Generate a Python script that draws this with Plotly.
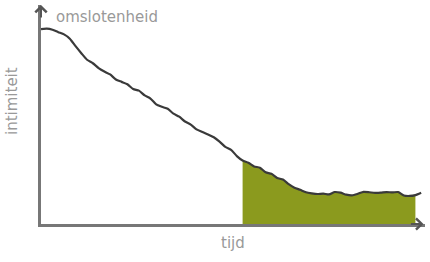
import plotly.graph_objects as go

# time (x) and intimacy (y) values
tijd = [0, 1.5, 3, 4.5, 6, 7.5, 9, 10.5, 12, 13.5, 15, 16.5, 18, 19.5, 21, 22.5, 24, 25.5,
        27, 28.5, 30, 31.5, 33, 34.5, 36, 37.5, 39, 40.5, 42, 43.5, 45, 46.5, 48, 49.5,
        51, 52.5, 54, 55.5, 57, 58.5, 60, 61.5, 63, 64.5, 66, 67.5, 69, 70.5, 72, 73.5,
        75, 76.5, 78, 79.5, 81, 82.5, 84, 85.5, 87, 88.5, 90, 91.5, 93, 94.5, 96, 97.5, 99]
intimiteit = [89.0, 89.2, 88.7, 87.6, 86.6, 84.6, 81.2, 78.0, 75.0, 73.4, 71.2, 69.6, 68.3,
              66.0, 64.9, 63.8, 61.6, 60.9, 58.7, 57.3, 54.6, 53.5, 52.6, 50.4, 49.0, 46.8,
              45.4, 43.2, 42.0, 40.9, 39.6, 37.6, 35.2, 33.9, 31.0, 29.0, 28.0, 26.3, 25.7,
              23.6, 22.9, 21.0, 20.3, 18.2, 16.6, 15.6, 14.5, 14.0, 13.7, 13.9, 13.5, 14.6,
              14.3, 13.4, 13.1, 13.8, 14.7, 14.5, 14.2, 14.3, 14.6, 14.4, 14.6, 13.0, 12.8,
              13.2, 14.3]
fill_start = 52.5
fill_end = 97.5

fx = [x for x in tijd if fill_start <= x <= fill_end]
fy = [y for x, y in zip(tijd, intimiteit) if fill_start <= x <= fill_end]

fig = go.Figure()
fig.add_trace(go.Scatter(x=fx, y=fy, mode="lines", fill="tozeroy",
                         fillcolor="#8b9a1e", line=dict(width=0, color="#8b9a1e"),
                         hoverinfo="skip", showlegend=False))
fig.add_trace(go.Scatter(x=tijd, y=intimiteit, mode="lines",
                         line=dict(color="#3a3a3a", width=2.2, shape="spline", smoothing=0.6),
                         showlegend=False))

fig.update_layout(
    width=430, height=262,
    margin=dict(l=41, r=5, t=5, b=38),
    paper_bgcolor="white", plot_bgcolor="white",
    xaxis=dict(range=[0, 100], showgrid=False, zeroline=False, showticklabels=False,
               ticks="", showline=True, linecolor="#777777", linewidth=2.5, mirror=False),
    yaxis=dict(range=[0, 100], showgrid=False, zeroline=False, showticklabels=False,
               ticks="", showline=True, linecolor="#777777", linewidth=2.5, mirror=False),
    font=dict(family="DejaVu Sans, sans-serif", color="#999999", size=15),
    annotations=[
        dict(x=0, y=100, xref="x", yref="y", ax=0, ay=14, showarrow=True,
             arrowhead=4, arrowsize=1.1, arrowwidth=2, arrowcolor="#555555", text=""),
        dict(x=99.6, y=0, xref="x", yref="y", ax=-14, ay=0, showarrow=True,
             arrowhead=4, arrowsize=1.1, arrowwidth=2, arrowcolor="#555555", text=""),
        dict(x=54, y=17, xref="paper", yref="paper", xanchor="left", yanchor="middle",
             text="omslotenheid", showarrow=False),
        dict(x=12, y=101, xref="paper", yref="paper", xanchor="center", yanchor="middle",
             textangle=-90, text="intimiteit", showarrow=False),
        dict(x=233, y=243, xref="paper", yref="paper", xanchor="center", yanchor="middle",
             text="tijd", showarrow=False),
    ],
)

# convert pixel-placed labels to paper coordinates
pw, ph = 430 - 41 - 5, 262 - 5 - 38
for a in fig.layout.annotations:
    if a.xref == "paper":
        a.x = (a.x - 41) / pw
        a.y = 1 - (a.y - 5) / ph

fig.write_html("out.html", config={"displayModeBar": False},
               post_script="document.body.style.margin='0';")
